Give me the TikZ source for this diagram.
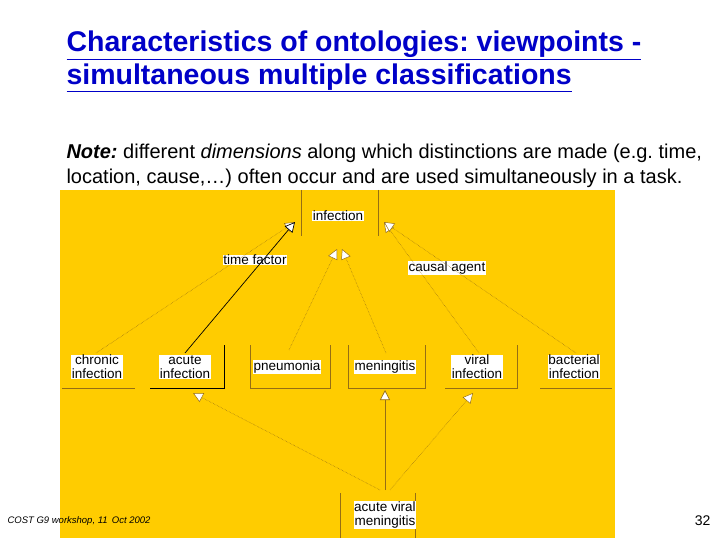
\documentclass[tikz,border=0pt]{standalone}
\usepackage{fontspec}
\setmainfont{Liberation Sans}
\usetikzlibrary{arrows.meta}
\definecolor{bg}{RGB}{255,204,0}
\definecolor{edge}{RGB}{150,110,20}
\definecolor{ttl}{RGB}{0,0,200}
\frenchspacing
\begin{document}
\begin{tikzpicture}[x=1pt,y=-1pt,
  lab/.style={fill=white,inner sep=0.5pt,font=\fontsize{13.5}{14}\selectfont,align=center},
  isa/.style={-{Triangle[open,fill=white,length=10pt,width=10pt]},draw=edge,densely dotted,line width=0.5pt},
  isas/.style={-{Triangle[open,fill=white,length=10pt,width=10pt]},line width=0.7pt},
  side/.style={draw=edge,line width=0.6pt}]
\useasboundingbox (0,0) rectangle (720,540);
\fill[white] (0,0) rectangle (720,540);
\fill[bg] (60,190) rectangle (615,538);
\node[anchor=west,font=\bfseries\fontsize{28.5}{30}\selectfont,text=ttl] (t1) at (63,45) {\underline{Characteristics of ontologies: viewpoints -}};
\node[anchor=west,font=\bfseries\fontsize{28.5}{30}\selectfont,text=ttl] (t2) at (63,78) {\underline{simultaneous multiple classifications}};
\node[anchor=west,font=\fontsize{20}{22}\selectfont] (n1) at (63,153) {\textbf{\textit{Note:}} different \textit{dimensions} along which distinctions are made (e.g. time,};
\node[anchor=west,font=\fontsize{20}{22}\selectfont] (n2) at (63,178) {location, cause,\dots) often occur and are used simultaneously in a task.};
\node[anchor=west,font=\itshape\fontsize{9.5}{10}\selectfont] (ft) at (4,521) {COST G9 workshop, 11\, Oct 2002};
\node[anchor=east,font=\fontsize{14}{16}\selectfont] (pg) at (714,521) {32};
% boxes
\draw[side] (301,190)--(301,236) (378,190)--(378,236);
\node[lab] (inf) at (338,216) {infection};
\draw[side] (62,388)--(135,388);
\node[lab] (chr) at (97,367) {chronic\\infection};
\draw[black,line width=0.7pt] (150,388)--(224,388)--(224,345);
\node[lab] (acu) at (185,367) {acute\\infection};
\draw[side] (250,345)--(250,388)--(330,388)--(330,345);
\node[lab] (pne) at (287,367) {pneumonia};
\draw[side] (348,345)--(348,388)--(425,388)--(425,345);
\node[lab] (men) at (385,367) {meningitis};
\draw[side] (445,388)--(517,388)--(517,345);
\node[lab] (vir) at (477,367) {viral\\infection};
\draw[side] (540,388)--(612,388);
\node[lab] (bac) at (574,367) {bacterial\\infection};
\draw[side] (340,493)--(340,538) (415,493)--(415,538);
\node[lab] (avm) at (385,515) {acute viral\\meningitis};
\node[lab] (tf) at (255,260) {time factor};
\node[lab] (ca) at (447,268) {causal agent};
\coordinate (inl) at (295,222);
\coordinate (inr) at (384,222);
\coordinate (inc) at (337,249);
\coordinate (inc2) at (342,249);
% arrows
\draw[isa] (96,353) -- (inl);
\draw[isas] (185,353) -- (inl);
\draw[isa] (289,350) -- (inc);
\draw[isa] (386,353) -- (inc2);
\draw[isa] (479,353) -- (inr);
\draw[isa] (576,353) -- (inr);
\coordinate (avt) at (385,490);
\coordinate (avl) at (390,490);
\coordinate (avr) at (380,490);
\draw[isas,draw=edge] (avt) -- (385,390);
\draw[isa] (avr) -- (193,393);
\draw[isa] (avl) -- (473,393);
\end{tikzpicture}
\end{document}
